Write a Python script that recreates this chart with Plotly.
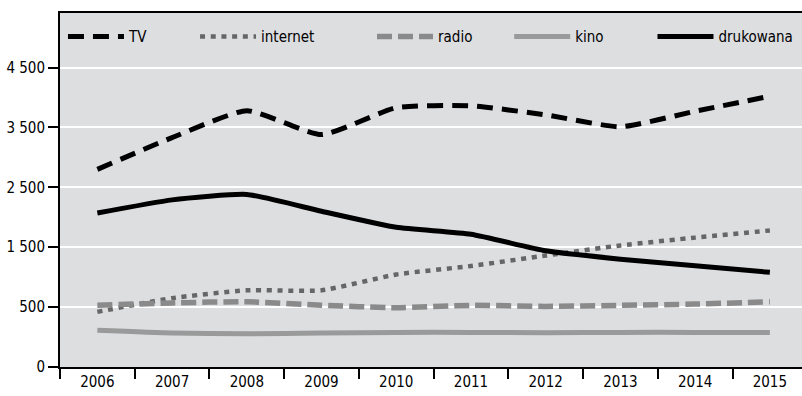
import plotly.graph_objects as go

years = ["2006", "2007", "2008", "2009", "2010", "2011", "2012", "2013", "2014", "2015"]
tv = [2800, 3330, 3780, 3380, 3830, 3860, 3710, 3510, 3770, 4020]
internet = [420, 650, 780, 780, 1045, 1186, 1360, 1530, 1660, 1780]
radio = [530, 570, 590, 530, 490, 529, 512, 529, 550, 590]
kino = [112, 67, 56, 67, 78, 78, 73, 78, 78, 78]
drukowana = [2070, 2290, 2380, 2100, 1832, 1715, 1440, 1300, 1190, 1080]

ytick_vals = [-500, 500, 1500, 2500, 3500, 4500]
ytick_text = ["0", "500", "1 500", "2 500", "3 500", "4 500"]

FONT = "Liberation Sans Narrow, DejaVu Sans Condensed, Arial Narrow, sans-serif"

series = [
    ("TV", tv, dict(color="#000000", width=5, dash="16px,9px"), "legend"),
    ("internet", internet, dict(color="#666666", width=4.5, dash="5px,5.7px"), "legend2"),
    ("radio", radio, dict(color="#8a8a8a", width=5.5, dash="15px,6px"), "legend3"),
    ("kino", kino, dict(color="#9a9a9a", width=5, dash="solid"), "legend4"),
    ("drukowana", drukowana, dict(color="#000000", width=5, dash="solid"), "legend5"),
]

fig = go.Figure()
for name, vals, line, lg in series:
    fig.add_trace(go.Scatter(
        x=years, y=vals, name=name, mode="lines",
        line=dict(shape="spline", smoothing=0.5, **line),
        legend=lg,
    ))

leg_x = {"legend": 0.004, "legend2": 0.182, "legend3": 0.4205, "legend4": 0.6054, "legend5": 0.7985}
legend_common = dict(
    orientation="h", y=0.933, yanchor="middle", xanchor="left",
    bgcolor="rgba(0,0,0,0)", font=dict(family=FONT, size=15, color="#000000"),
    itemwidth=56, borderwidth=0,
)

layout_legends = {k: dict(x=v, **legend_common) for k, v in leg_x.items()}

fig.update_layout(
    width=802, height=396,
    margin=dict(l=60, r=0, t=13, b=29),
    paper_bgcolor="#ffffff",
    plot_bgcolor="#dddee0",
    font=dict(family=FONT, size=15, color="#000000"),
    showlegend=True,
    **layout_legends,
)

fig.update_xaxes(
    type="category", range=[-0.5, 9.43],
    tickson="boundaries", ticks="outside", ticklen=10, tickwidth=1.5, tickcolor="#000000",
    showline=True, linecolor="#000000", linewidth=2, mirror=True,
    showgrid=False, zeroline=False,
    tickfont=dict(family=FONT, size=15, color="#000000"),
)
fig.update_yaxes(
    range=[-500, 5410], tickvals=ytick_vals, ticktext=ytick_text,
    ticks="outside", ticklen=10, tickwidth=1.5, tickcolor="#000000",
    showline=True, linecolor="#000000", linewidth=2,
    showgrid=True, gridcolor="#ffffff", gridwidth=1.5, zeroline=False,
    tickfont=dict(family=FONT, size=15, color="#000000"),
)

fig.write_html("out.html")
